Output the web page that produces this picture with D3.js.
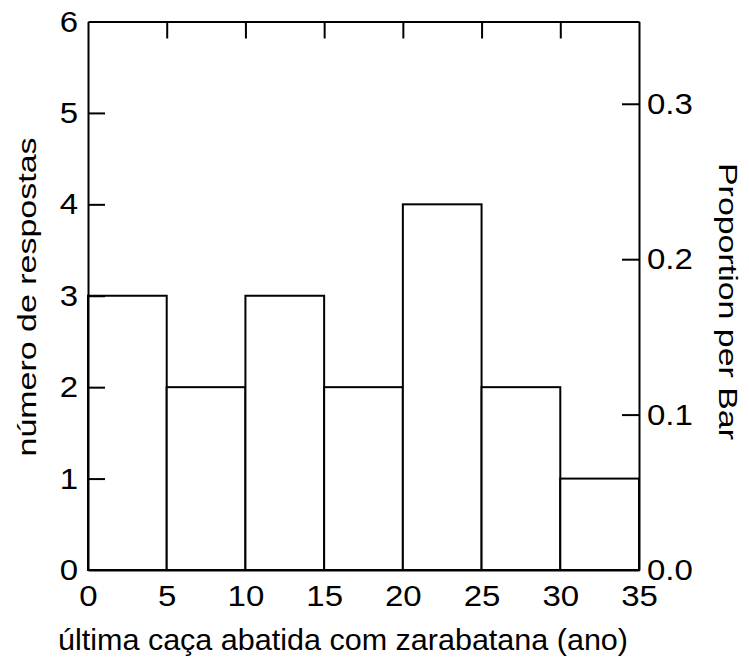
<!DOCTYPE html>
<html>
<head>
<meta charset="utf-8">
<script src="https://cdn.jsdelivr.net/npm/d3@7"></script>
<style>
  html, body { margin: 0; padding: 0; background: #fff; }
  svg { display: block; }
  text { font-family: "Liberation Sans", Arial, sans-serif; fill: #000; }
</style>
</head>
<body>
<svg id="chart" width="749" height="661"></svg>
<script>
// Histogram bins (years since last kill with a blowgun) and counts per bin
const binStarts = [0, 5, 10, 15, 20, 25, 30];
const binWidth = 5;
const counts = [3, 2, 3, 2, 4, 2, 1];
const xTicks = [0, 5, 10, 15, 20, 25, 30, 35];
const yTicks = [0, 1, 2, 3, 4, 5, 6];
const propTicks = [0.0, 0.1, 0.2, 0.3];

const xTitle = "última caça abatida com zarabatana (ano)";
const yTitle = "número de respostas";
const y2Title = "Proportion per Bar";

const W = 749, H = 661;
const m = { left: 88, right: 110, top: 21.5, bottom: 91 };
const plotW = W - m.left - m.right;
const plotH = H - m.top - m.bottom;
const total = d3.sum(counts);

const svg = d3.select("#chart");
const g = svg.append("g").attr("transform", `translate(${m.left},${m.top})`);

const x = d3.scaleLinear().domain([0, 35]).range([0, plotW]);
const y = d3.scaleLinear().domain([0, 6]).range([plotH, 0]);
const yProp = d3.scaleLinear().domain([0, 6 / total]).range([plotH, 0]);

const fs = 30;       // tick label size
const stretch = 1.1; // tick labels are drawn slightly wide
const tickLen = 17;
const sw = 2;

// Bars
g.selectAll("rect.bar")
  .data(binStarts)
  .enter().append("rect")
  .attr("class", "bar")
  .attr("x", (d) => x(d))
  .attr("y", (d, i) => y(counts[i]))
  .attr("width", x(binWidth) - x(0))
  .attr("height", (d, i) => y(0) - y(counts[i]))
  .attr("fill", "#fff")
  .attr("stroke", "#000")
  .attr("stroke-width", sw);

function styleAxis(sel) {
  sel.select(".domain").attr("stroke", "#000").attr("stroke-width", sw);
  sel.selectAll(".tick line").attr("stroke", "#000").attr("stroke-width", sw);
  sel.selectAll(".tick text")
    .style("font-size", fs + "px")
    .style("font-family", '"Liberation Sans", Arial, sans-serif')
    .each(function () {
      const t = d3.select(this);
      const tx = +t.attr("x") || 0;
      t.attr("x", tx / stretch).attr("transform", `scale(${stretch},1)`);
    });
}

// Left axis: inward ticks
const leftAxis = g.append("g")
  .call(d3.axisLeft(y).tickValues(yTicks).tickFormat(d3.format("d"))
    .tickSizeInner(-tickLen).tickSizeOuter(0).tickPadding(10));
styleAxis(leftAxis);
leftAxis.selectAll(".tick").filter((d) => d === 0 || d === 6).select("line").remove();

// Bottom axis: labels only, bar edges form the ticks
const bottomAxis = g.append("g").attr("transform", `translate(0,${plotH})`)
  .call(d3.axisBottom(x).tickValues(xTicks).tickFormat(d3.format("d"))
    .tickSizeInner(0).tickSizeOuter(0).tickPadding(15));
styleAxis(bottomAxis);

// Top axis: inward ticks without labels
const topAxis = g.append("g")
  .call(d3.axisTop(x).tickValues(xTicks.slice(1, -1))
    .tickSizeInner(-tickLen).tickSizeOuter(0).tickFormat(""));
styleAxis(topAxis);

// Right axis: proportion per bar, inward ticks
const rightAxis = g.append("g").attr("transform", `translate(${plotW},0)`)
  .call(d3.axisRight(yProp).tickValues(propTicks).tickFormat(d3.format(".1f"))
    .tickSizeInner(-tickLen).tickSizeOuter(0).tickPadding(8));
styleAxis(rightAxis);
rightAxis.selectAll(".tick").filter((d) => d === 0).select("line").remove();

// Axis titles
svg.append("text")
  .attr("x", 343)
  .attr("y", 650)
  .attr("text-anchor", "middle")
  .attr("textLength", 570)
  .attr("lengthAdjust", "spacingAndGlyphs")
  .style("font-size", "30px")
  .text(xTitle);

svg.append("text")
  .attr("transform", `translate(36,297) rotate(-90)`)
  .attr("text-anchor", "middle")
  .attr("textLength", 319)
  .attr("lengthAdjust", "spacingAndGlyphs")
  .style("font-size", "25px")
  .text(yTitle);

svg.append("text")
  .attr("transform", `translate(719,301.5) rotate(90)`)
  .attr("text-anchor", "middle")
  .attr("textLength", 277)
  .attr("lengthAdjust", "spacingAndGlyphs")
  .style("font-size", "26px")
  .text(y2Title);
</script>
</body>
</html>
